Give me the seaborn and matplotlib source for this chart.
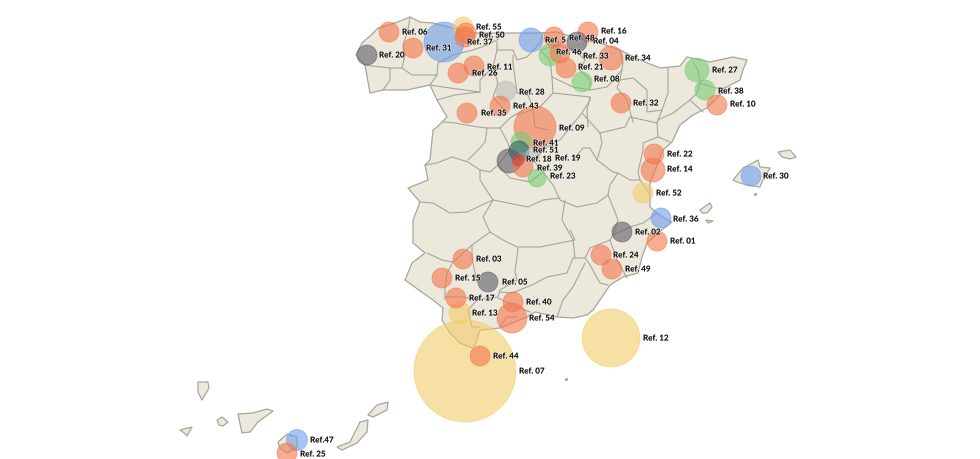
import matplotlib
matplotlib.use("Agg")
import matplotlib.pyplot as plt
import matplotlib.patheffects as pe
import pandas as pd
import seaborn as sns

refs = ["Ref. 06","Ref. 31","","Ref. 55","Ref. 50","Ref. 37","Ref. 20","Ref. 11","Ref. 26","Ref. 28","Ref. 43","Ref. 35","Ref. 09",
        "Ref. 5","Ref. 04","Ref. 16","Ref. 48","Ref. 46","Ref. 33","Ref. 21","Ref. 08","Ref. 34","Ref. 32",
        "Ref. 41","Ref. 51","Ref. 19","Ref. 18","","Ref. 39","Ref. 23",
        "Ref. 03","Ref. 15","Ref. 05","Ref. 17","Ref. 40","Ref. 54","Ref. 13","Ref. 07","Ref. 44","Ref. 12",
        "Ref. 24","Ref. 49","Ref. 01","Ref. 02","Ref. 27","Ref. 38","Ref. 10","Ref. 22","Ref. 14","Ref. 52","Ref. 36","Ref. 30","Ref.47","Ref. 25"]
xs = [389,413,444,463,466,465,367,474,458,506,500,467,535,
      531,554,588,577,550,560,566,582,611,621,
      521,519,533,509,518,523,537,
      463,442,488,456,513,512,460,465,480,611,
      601,612,657,622,697,705,717,654,653,643,661,751,297,287]
ys = [32,48,42,27,33,37,55,66,73,91,106,113,127,
      40,37,32,42,55,53,68,82,58,103,
      142,151,155,161,160,167,178,
      259,278,282,298,302,318,313,371,356,338,
      255,269,241,232,70,90,105,154,170,193,218,176,440,453]
radius = [10,10,20,10,10,10,10,10,10,10,10,10,21,
          12,10,10,10,11,10,10,10,12,10,
          10,10,7,12,6,10,9,
          10,10,10,10,10,15,11,51,10,29,
          10,10,10,10,12,10,10,10,12,10,10,10,10.5,10]
group = ["o","o","b","y","o","o","g","o","o","l","o","o","o",
         "b","o","o","g","n","o","o","n","o","o",
         "n","d","l","g","r","o","n",
         "o","o","g","o","o","o","y","y","o","y",
         "o","o","o","g","n","n","o","o","o","y","b","b","b","o"]
label_x = [402,426,0,476,479,467,379,487,472,519,513,481,559,
           545,593,601,569,556,583,578,594,625,633,
           533,533,555,526,0,537,550,
           476,455,502,469,526,529,472,519,493,643,
           613,625,670,635,712,718,730,667,667,656,673,763,310,300]
label_y = [32,48,0,27,35,42,55,67,73,92,106,113,128,
           40,41,31,38,52,56,67,79,58,103,
           143,150,158,159,0,168,176,
           259,278,282,298,302,318,313,371,356,338,
           255,269,241,232,70,91,104,154,169,193,219,176,440,454]

mainland = [(362,43),(370,36),(378,28),(395,23),(410,17),(420,22),(433,23),(453,28),(473,33),(493,33),(517,33),(540,33),(557,32),(573,37),(597,42),
            (620,50),(640,60),(660,68),(680,66),(687,57),(710,62),(733,57),(747,60),(743,70),(740,80),(725,88),(720,95),(707,108),(693,115),(680,125),(672,142),
            (663,150),(656,168),(650,183),(650,207),(662,217),(672,222),(658,233),(647,243),(642,257),(638,273),(623,277),(610,285),(602,297),(593,310),(587,315),
            (573,318),(557,317),(535,312),(527,317),(500,328),(480,330),(475,345),(472,348),(460,343),(450,333),(442,320),(443,308),(433,300),(423,293),(405,280),
            (412,263),(425,253),(413,243),(413,220),(417,210),(420,202),(408,188),(428,180),(425,165),(430,160),(433,130),(437,127),(447,117),(437,100),(430,85),
            (407,90),(383,90),(370,93),(365,65),(356,55)]
mallorca = [(733,180),(743,168),(758,160),(760,167),(770,168),(763,180),(760,187),(747,185),(737,182)]
menorca = [(778,152),(790,150),(796,157),(790,159),(782,157)]
ibiza = [(700,210),(710,203),(712,207),(707,213),(702,213)]
formentera = [(706,220),(713,221),(708,223)]
la_palma = [(198,382),(208,382),(209,388),(202,400),(198,392)]
gomera = [(217,420),(222,417),(228,422),(223,426),(219,425)]
el_hierro = [(180,430),(192,427),(187,436),(183,432)]
tenerife = [(238,414),(253,413),(267,409),(273,411),(258,422),(250,432),(242,433)]
gran_canaria = [(278,442),(287,434),(297,437),(297,448),(287,453),(280,448)]
fuerteventura = [(337,447),(350,442),(360,422),(368,420),(367,432),(357,443),(342,450)]
lanzarote = [(368,415),(377,405),(388,402),(387,410),(373,417)]
islands = [mallorca, menorca, ibiza, formentera, la_palma, gomera, el_hierro, tenerife, gran_canaria, fuerteventura, lanzarote]

borders = [
 [(410,17),(408,30),(403,45),(405,55),(402,68),(412,75),(437,75),(430,85)],
 [(390,68),(390,80),(383,90)],
 [(364,65),(390,68),(402,68)],
 [(437,75),(438,63),(453,55),(473,50),(487,45),(497,40),(503,33)],
 [(430,85),(450,88),(480,92),(480,80),(493,67)],
 [(497,42),(497,50),(493,67),(498,83),(493,97),(507,113)],
 [(497,50),(513,50),(517,60),(527,57),(540,43),(543,33)],
 [(513,55),(513,63),(517,93),(528,95),(533,108)],
 [(550,60),(552,77),(573,87),(590,90),(607,87),(622,70)],
 [(550,60),(540,50),(557,45),(575,50),(585,60),(580,70),(590,80),(590,90)],
 [(553,93),(540,107),(517,115)],
 [(552,77),(553,93),(590,97),(587,110),(588,127)],
 [(620,50),(623,63),(620,80),(617,88),(627,100),(633,122)],
 [(620,80),(633,78),(647,90),(647,112),(662,110)],
 [(668,68),(668,93),(662,110),(658,120),(673,113),(690,100),(697,93),(700,83),(698,70),(693,62)],
 [(690,100),(703,112)],
 [(700,83),(715,88),(725,88)],
 [(658,120),(657,123),(630,117),(625,127),(600,133),(582,113),(590,100),(590,97)],
 [(657,123),(658,137),(670,142)],
 [(658,137),(643,143),(643,150),(638,172),(640,180),(647,190),(650,195)],
 [(600,133),(602,143),(597,160),(590,148),(583,148),(573,160)],
 [(597,160),(613,172),(618,173),(610,185),(608,195),(597,203),(577,207),(560,200),(553,185),(543,172),(533,160)],
 [(618,173),(630,180),(640,180)],
 [(608,195),(615,212),(618,220),(613,235),(610,240),(590,248),(585,258),(575,258)],
 [(613,235),(630,227),(643,223),(657,213)],
 [(610,240),(617,260),(627,278)],
 [(585,258),(590,265),(600,283),(608,285)],
 [(565,200),(562,220),(573,240),(575,258),(573,258),(567,273),(547,277),(532,285),(512,293),(500,292)],
 [(585,263),(573,287),(563,300),(557,317)],
 [(570,230),(575,240),(540,247),(517,247),(503,240),(490,232),(483,217),(493,200),(528,207),(543,200),(560,198)],
 [(518,248),(515,272),(517,280),(500,290),(498,297),(477,300),(463,297),(445,297)],
 [(490,232),(472,245),(453,262),(442,260),(427,253)],
 [(472,245),(472,258),(477,282)],
 [(453,262),(447,273),(445,288),(445,300)],
 [(477,300),(468,310),(472,327),(480,327)],
 [(498,298),(512,305),(530,312)],
 [(500,327),(507,317),(517,317)],
 [(420,202),(433,203),(450,213),(467,212),(482,205),(493,200)],
 [(425,165),(437,163),(452,157),(468,162),(480,170),(480,180),(493,200)],
 [(443,122),(455,123),(478,127),(487,128),(500,128),(510,118),(523,110)],
 [(487,128),(485,142),(480,148),(468,160)],
 [(480,170),(490,172),(498,165),(510,150),(508,143),(500,128)],
 [(510,150),(520,160),(533,160),(547,147),(560,140),(582,113)],
 [(533,108),(535,127),(548,130)],
 [(498,165),(510,178),(530,182),(543,172)],
 [(437,100),(455,95),(480,92)],
]

CAT = {"o":"#F4774B","b":"#6E9DEA","y":"#F3CC68","g":"#5E5C69","n":"#78CC74","l":"#BDBDBD","d":"#2F5E6B","r":"#D8403A"}
LAND = "#ECE9DC"
EDGE = "#A6A69B"
LABEL = "#111111"
PX = 72 / 100

bubbles = pd.DataFrame({"x": xs, "y": ys, "r2": [r * r for r in radius], "cat": group})
bubbles = bubbles.sort_values("r2", ascending=False, kind="stable")

sns.set_theme(style="white")
plt.rcParams["font.family"] = ["Lato", "DejaVu Sans"]

fig = plt.figure(figsize=(9.8, 4.59), dpi=100)
ax = fig.add_axes([0, 0, 1, 1])

for poly in [mainland] + islands:
    px, py = zip(*poly)
    ax.fill(px, py, facecolor=LAND, edgecolor=EDGE, linewidth=0.9, joinstyle="round", zorder=1)
for line in borders:
    px, py = zip(*line)
    ax.plot(px, py, color=EDGE, linewidth=0.8, solid_joinstyle="round", zorder=2)
ax.plot([755, 566], [194, 379], linestyle="none", marker="o", markersize=1.2, color=EDGE, zorder=2)

rmin2, rmax2 = bubbles["r2"].min(), bubbles["r2"].max()
smin, smax = 4 * rmin2 * PX ** 2, 4 * rmax2 * PX ** 2
sns.scatterplot(data=bubbles, x="x", y="y", hue="cat", palette=CAT, size="r2",
                sizes=(smin, smax), size_norm=(rmin2, rmax2), alpha=0.6,
                edgecolor="face", linewidth=0.6, legend=False, ax=ax, zorder=3)

for t, lx, ly in zip(refs, label_x, label_y):
    if t:
        ax.text(lx, ly, t, fontsize=5.8, fontweight="bold", color=LABEL, va="center", ha="left", zorder=4,
                path_effects=[pe.withStroke(linewidth=1.0, foreground=(1, 1, 1, 0.55))])

ax.set_xlim(0, 980)
ax.set_ylim(459, 0)
ax.set_xlabel("")
ax.set_ylabel("")
ax.axis("off")
fig.savefig("out.png", dpi=100, facecolor="white")
